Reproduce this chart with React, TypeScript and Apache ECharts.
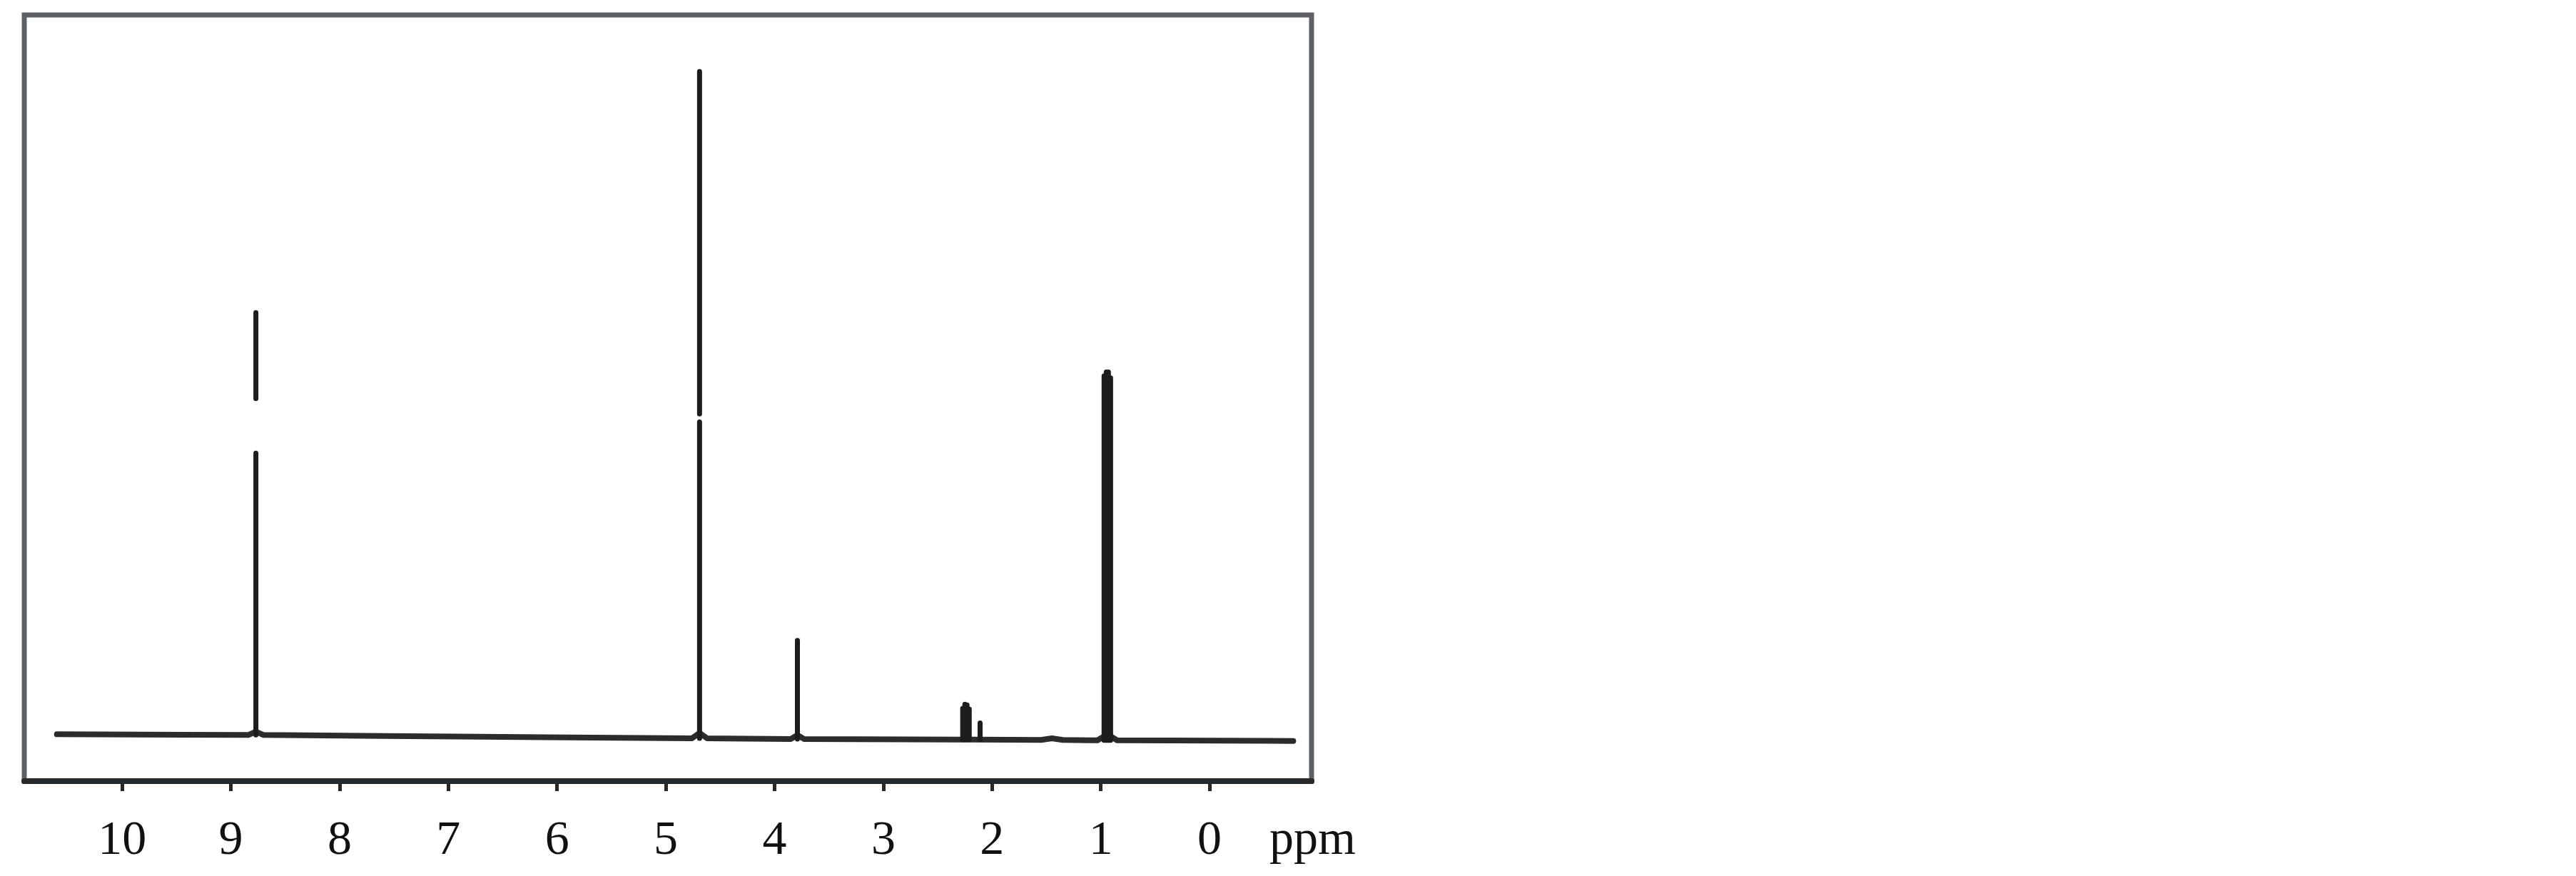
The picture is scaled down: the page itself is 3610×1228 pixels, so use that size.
import React, { useEffect, useRef } from "react";
import * as echarts from "echarts";

// x axis (chemical shift, ppm) tick labels
const tickValues = [0, 1, 2, 3, 4, 5, 6, 7, 8, 9, 10];

// baseline trace (ppm, intensity) incl. small feet at the peaks
const baselinePpm = [10.6, 8.84, 8.77, 8.7, 6.5, 4.76, 4.69, 4.62, 3.85, 3.79, 3.73, 2.32, 2.16, 1.55, 1.45, 1.35, 1.03, 0.94, 0.85, -0.77];
const baselineIntensity = [0.5, 0.4, 0.9, 0.4, 0.1, -0.1, 0.7, -0.1, -0.2, 0.4, -0.2, -0.3, -0.3, -0.35, -0.1, -0.35, -0.4, 0.5, -0.4, -0.5];

// peak sticks (ppm, base, top)
const peakPpm = [8.77, 4.69, 3.79, 2.27, 2.25, 2.23, 2.21, 2.11, 0.97, 0.95, 0.93, 0.91];
const peakBase = [0.4, -0.1, -0.2, -0.3, -0.3, -0.3, -0.3, -0.3, -0.4, -0.4, -0.4, -0.4];
const peakTop = [63.8, 100.0, 14.6, 4.4, 5.0, 4.9, 4.3, 2.2, 54.3, 54.9, 54.9, 54.0];

// breaks visible in the printed sticks (ppm, gap from, gap to)
const gapPpm = [8.77, 4.69];
const gapFrom = [42.7, 47.4];
const gapTo = [50.9, 48.6];

const X_MIN = -0.938;
const X_MAX = 10.9;
const Y_MIN = -6.53;
const Y_MAX = 108.5;

export default function App() {
  const ref = useRef<HTMLDivElement>(null);

  useEffect(() => {
    if (!ref.current) return;
    const chart = echarts.init(ref.current, null, { renderer: "svg" });

    const baselineData = baselinePpm.map((p, i) => [p, baselineIntensity[i]]);

    const stickData: any[] = [];
    peakPpm.forEach((p, i) => {
      const g = gapPpm.indexOf(p);
      if (g >= 0) {
        stickData.push([p, peakBase[i]], [p, gapFrom[g]], [p, "-"]);
        stickData.push([p, gapTo[g]], [p, peakTop[i]], [p, "-"]);
      } else {
        stickData.push([p, peakBase[i]], [p, peakTop[i]], [p, "-"]);
      }
    });

    const labelFont = {
      fontFamily: "Liberation Serif",
      fontSize: 68,
      color: "#111111",
    };

    chart.setOption({
      animation: false,
      backgroundColor: "#ffffff",
      grid: {
        show: true,
        left: 34,
        right: 1772,
        top: 21,
        bottom: 133,
        borderColor: "#5c6166",
        borderWidth: 7,
        backgroundColor: "transparent",
      },
      xAxis: {
        type: "value",
        inverse: true,
        min: X_MIN,
        max: X_MAX,
        splitLine: { show: false },
        axisLine: { show: true, onZero: false, lineStyle: { color: "#26292c", width: 8 } },
        axisTick: {
          show: true,
          customValues: tickValues,
          length: 14,
          inside: false,
          lineStyle: { color: "#26292c", width: 5 },
        },
        axisLabel: {
          show: true,
          customValues: tickValues,
          margin: 45,
          ...labelFont,
        },
      },
      yAxis: {
        type: "value",
        min: Y_MIN,
        max: Y_MAX,
        show: false,
        splitLine: { show: false },
      },
      graphic: [
        {
          type: "text",
          left: 1779,
          top: 1095 + 45,
          style: {
            text: "ppm",
            fontFamily: "Liberation Serif",
            fontSize: 68,
            fill: "#111111",
          },
        },
      ],
      series: [
        {
          type: "line",
          data: baselineData,
          symbol: "none",
          silent: true,
          lineStyle: { color: "#2a2c2e", width: 8, join: "round", cap: "round" },
          z: 2,
        },
        {
          type: "line",
          data: stickData,
          symbol: "none",
          silent: true,
          connectNulls: false,
          lineStyle: { color: "#1c1d1f", width: 7, cap: "round" },
          z: 3,
        },
      ],
    });

    return () => chart.dispose();
  }, []);

  return (
    <div
      ref={ref}
      style={{ position: "absolute", left: 0, top: 0, width: 3610, height: 1228 }}
    />
  );
}
